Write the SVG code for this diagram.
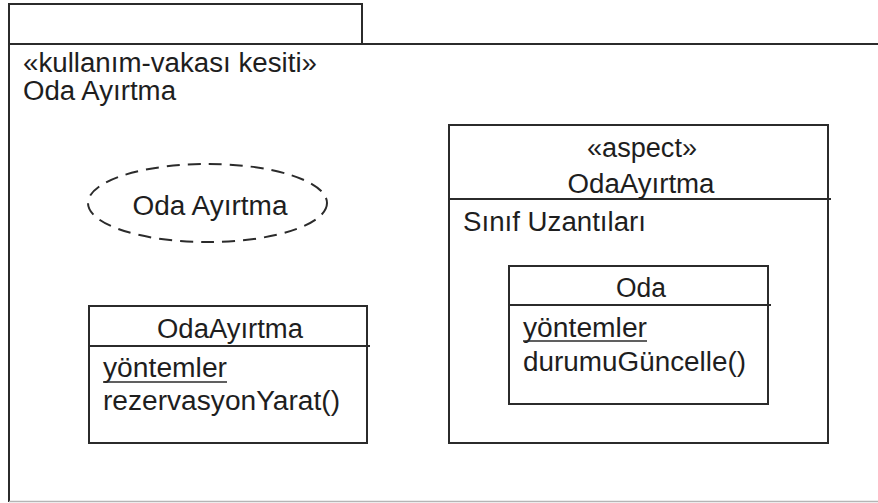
<svg xmlns="http://www.w3.org/2000/svg" width="878" height="503" viewBox="0 0 878 503">
  <style>
    text { font-family: "Liberation Sans", Arial, sans-serif; font-size: 27px; fill: #1e1e1e; }
    .mid { text-anchor: middle; }
    .line { stroke: #2b2b2b; stroke-width: 2; fill: none; }
    .uline { stroke: #2b2b2b; stroke-width: 1.5; }
    .box { stroke: #2b2b2b; stroke-width: 2; fill: #ffffff; }
    .dash { stroke: #2b2b2b; stroke-width: 2; fill: none; stroke-dasharray: 13 8; }
  </style>
  <rect width="878" height="503" fill="#ffffff"/>

  <!-- package frame: tab, top edge, left edge, bottom edge -->
  <g id="package">
    <rect class="line" x="9" y="4" width="353" height="40"/>
    <line class="line" x1="9" y1="44" x2="878" y2="44"/>
    <line class="line" x1="9" y1="44" x2="9" y2="502"/>
    <line x1="9" y1="501.5" x2="878" y2="501.5" stroke="#b5b5b5" stroke-width="1.5"/>
    <text x="23" y="72" textLength="294" lengthAdjust="spacingAndGlyphs">«kullanım-vakası kesiti»</text>
    <text x="23" y="100" textLength="153" lengthAdjust="spacingAndGlyphs">Oda Ayırtma</text>
  </g>

  <!-- use case -->
  <g id="usecase">
    <ellipse class="dash" cx="207.5" cy="203" rx="119.5" ry="39"/>
    <text class="mid" x="210" y="215" textLength="155" lengthAdjust="spacingAndGlyphs">Oda Ayırtma</text>
  </g>

  <!-- class OdaAyırtma -->
  <g id="class-odaayirtma">
    <rect class="box" x="89" y="306" width="278" height="137"/>
    <line class="line" x1="89" y1="346" x2="370" y2="346"/>
    <text class="mid" x="230" y="338" textLength="146" lengthAdjust="spacingAndGlyphs">OdaAyırtma</text>
    <text x="103" y="377" textLength="124" lengthAdjust="spacingAndGlyphs">yöntemler</text>
    <line class="uline" x1="103" y1="382" x2="227" y2="382"/>
    <text x="103" y="410" textLength="237" lengthAdjust="spacingAndGlyphs">rezervasyonYarat()</text>
  </g>

  <!-- aspect OdaAyırtma -->
  <g id="aspect-odaayirtma">
    <rect class="box" x="449" y="125" width="379" height="318"/>
    <line class="line" x1="449" y1="199" x2="831" y2="199"/>
    <text class="mid" x="642" y="157" textLength="110" lengthAdjust="spacingAndGlyphs">«aspect»</text>
    <text class="mid" x="641" y="193" textLength="147" lengthAdjust="spacingAndGlyphs">OdaAyırtma</text>
    <text x="463" y="231" textLength="183" lengthAdjust="spacingAndGlyphs">Sınıf Uzantıları</text>
  </g>

  <!-- class Oda nested in the aspect -->
  <g id="class-oda">
    <rect class="box" x="509" y="266" width="259" height="138"/>
    <line class="line" x1="509" y1="305" x2="771" y2="305"/>
    <text class="mid" x="641" y="297" textLength="50" lengthAdjust="spacingAndGlyphs">Oda</text>
    <text x="523" y="337" textLength="124" lengthAdjust="spacingAndGlyphs">yöntemler</text>
    <line class="uline" x1="523" y1="341" x2="647" y2="341"/>
    <text x="523" y="371" textLength="223" lengthAdjust="spacingAndGlyphs">durumuGüncelle()</text>
  </g>

  <g id="connectors"/>
</svg>
